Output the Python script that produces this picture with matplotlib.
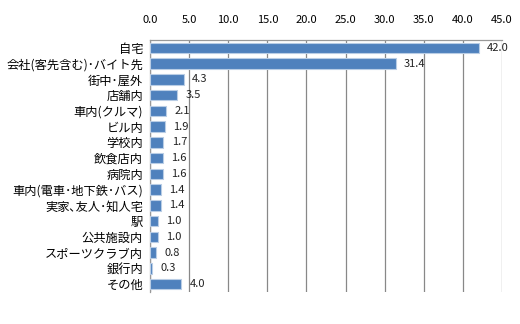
import matplotlib.pyplot as plt
import numpy as np

plt.rcParams['font.family'] = ['Noto Sans CJK JP', 'DejaVu Sans']

# 場所ごとの割合 (%)
places = ['自宅', '会社(客先含む)･バイト先', '街中･屋外', '店舗内', '車内(クルマ)',
          'ビル内', '学校内', '飲食店内', '病院内', '車内(電車･地下鉄･バス)',
          '実家､友人･知人宅', '駅', '公共施設内', 'スポーツクラブ内', '銀行内', 'その他']
shares = [42.0, 31.4, 4.3, 3.5, 2.1, 1.9, 1.7, 1.6, 1.6, 1.4, 1.4, 1.0, 1.0, 0.8, 0.3, 4.0]
ticks = np.arange(0, 45.1, 5)

fig = plt.figure(figsize=(5.2, 3.24), dpi=100)
ax = fig.add_axes([150 / 520, 32 / 324, 352 / 520, 252 / 324])

y = np.arange(len(places))
bars = ax.barh(y, shares, height=0.68, color='#4F81BD', edgecolor='#B9CDE5',
               linewidth=0.8, zorder=3)
for b, v in zip(bars, shares):
    ax.annotate(f'{v:.1f}', (v, b.get_y() + b.get_height() / 2), xytext=(6, 0),
                textcoords='offset points', va='center', ha='left', fontsize=8,
                color='#222222')

ax.set_ylim(len(places) - 0.5, -0.5)
ax.set_xlim(0, 45)
ax.set_xticks(ticks)
ax.set_xticklabels([f'{t:.1f}' for t in ticks], fontsize=8)
ax.set_yticks(y)
ax.set_yticklabels(places, fontsize=8.8)
ax.xaxis.tick_top()
ax.tick_params(axis='x', length=0, pad=11)
ax.tick_params(axis='y', length=0, pad=5)
ax.grid(axis='x', color='#888888', linewidth=0.9, zorder=0)
for s in ax.spines.values():
    s.set_color('#999999')
    s.set_linewidth(0.9)
ax.spines['right'].set_visible(False)
ax.spines['bottom'].set_visible(False)

fig.savefig('out.png', dpi=100)
